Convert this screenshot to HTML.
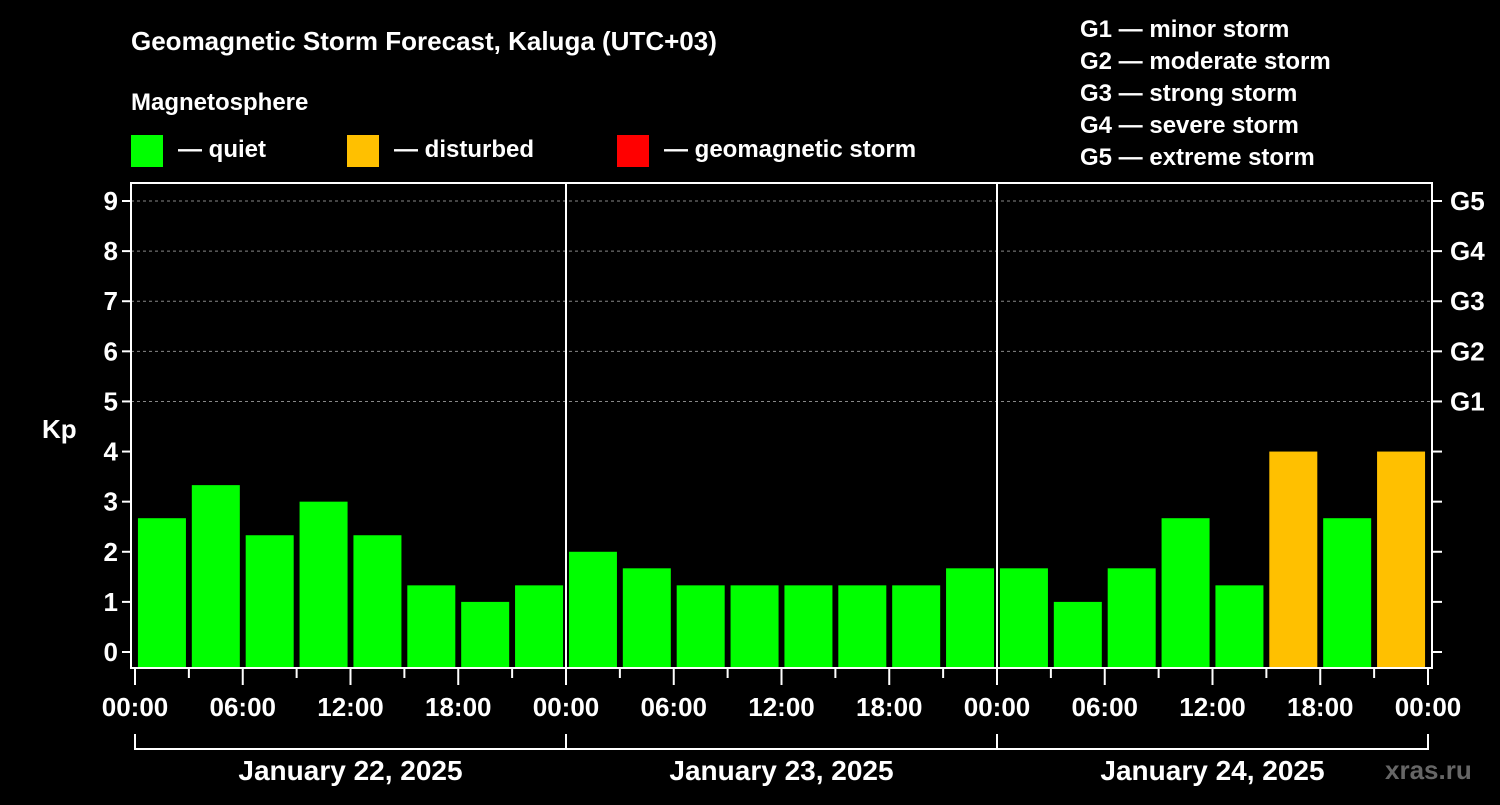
<!DOCTYPE html>
<html><head><meta charset="utf-8"><style>
body{margin:0;background:#000;width:1500px;height:800px;overflow:hidden}
svg text{font-family:"Liberation Sans",sans-serif;font-weight:bold;fill:#fff}
</style></head><body>
<svg id="c" width="1500" height="800">
<text x="131" y="50" font-size="26">Geomagnetic Storm Forecast, Kaluga (UTC+03)</text>
<text x="131" y="110" font-size="24">Magnetosphere</text>
<g><rect x="131" y="135" width="32" height="32" fill="#00ff00"/><text x="178" y="157" font-size="24">— quiet</text></g>
<g><rect x="347" y="135" width="32" height="32" fill="#ffc000"/><text x="394" y="157" font-size="24">— disturbed</text></g>
<g><rect x="617" y="135" width="32" height="32" fill="#ff0000"/><text x="664" y="157" font-size="24">— geomagnetic storm</text></g>
<g font-size="24">
<text x="1080" y="37">G1 — minor storm</text><text x="1080" y="69">G2 — moderate storm</text><text x="1080" y="101">G3 — strong storm</text><text x="1080" y="133">G4 — severe storm</text><text x="1080" y="165">G5 — extreme storm</text></g>
<text x="42" y="438" font-size="26">Kp</text>
<text x="1385" y="779" font-size="26" fill="#555" style="fill:#666">xras.ru</text>
<g id="plot"></g>
</svg>
<script>
const kpValues=[2.67,3.33,2.33,3,2.33,1.33,1,1.33, 2,1.67,1.33,1.33,1.33,1.33,1.33,1.67, 1.67,1,1.67,2.67,1.33,4,2.67,4];
const dayLabels=["January 22, 2025","January 23, 2025","January 24, 2025"];
const hourLabels=["00:00","06:00","12:00","18:00"];
const gLabels=["G1","G2","G3","G4","G5"];
const NS="http://www.w3.org/2000/svg";
const g=document.getElementById('plot');
const X0=135,X1=1428,L=131,R=1432,T=183,B=668;
const x=h=>X0+(X1-X0)*h/72;
const y=v=>652-v*(652-201)/9;
function mk(t,a,p){const e=document.createElementNS(NS,t);for(const k in a)e.setAttribute(k,a[k]);(p||g).appendChild(e);return e;}
for(let v=5;v<=9;v++){const l=mk('line',{x1:L,x2:R,y1:y(v),y2:y(v),stroke:'#888','stroke-dasharray':'3,3','stroke-width':1});

}
kpValues.forEach((v,i)=>{const c=x(i*3+1.5);const r=mk('rect',{x:c-24,y:y(v),width:48,height:B-y(v),fill:v>=5?'#ff0000':v>=4?'#ffc000':'#00ff00'});

});
mk('rect',{x:L,y:T,width:R-L,height:B-T,fill:'none',stroke:'#fff','stroke-width':2});
for(let d=1;d<3;d++){mk('line',{x1:x(d*24),x2:x(d*24),y1:T,y2:B,stroke:'#fff','stroke-width':2});}
for(let v=0;v<=9;v++){mk('line',{x1:L-9,x2:L,y1:y(v),y2:y(v),stroke:'#fff','stroke-width':2});
mk('line',{x1:R,x2:R+10,y1:y(v),y2:y(v),stroke:'#fff','stroke-width':2});
const t=mk('text',{x:118,y:y(v)+9,'font-size':26,'text-anchor':'end'});t.textContent=v;

}
gLabels.forEach((s,i)=>{const t=mk('text',{x:1450,y:y(5+i)+9,'font-size':26});t.textContent=s;

});
for(let h=0;h<=72;h+=3){const maj=h%6==0;mk('line',{x1:x(h),x2:x(h),y1:B,y2:B+(maj?17:10),stroke:'#fff','stroke-width':2});
if(maj&&(h%24!=0||true)){const lbl=hourLabels[(h%24)/6];const t=mk('text',{x:x(h),y:716,'font-size':26,'text-anchor':'middle'});t.textContent=lbl;

}}
dayLabels.forEach((s,i)=>{const a=x(i*24),b=x(i*24+24);
mk('path',{d:`M${a} 734V749H${b}V734`,stroke:'#fff','stroke-width':2,fill:'none'});
const t=mk('text',{x:(a+b)/2,y:780,'font-size':28,'text-anchor':'middle'});t.textContent=s;

});
</script>
</body></html>
